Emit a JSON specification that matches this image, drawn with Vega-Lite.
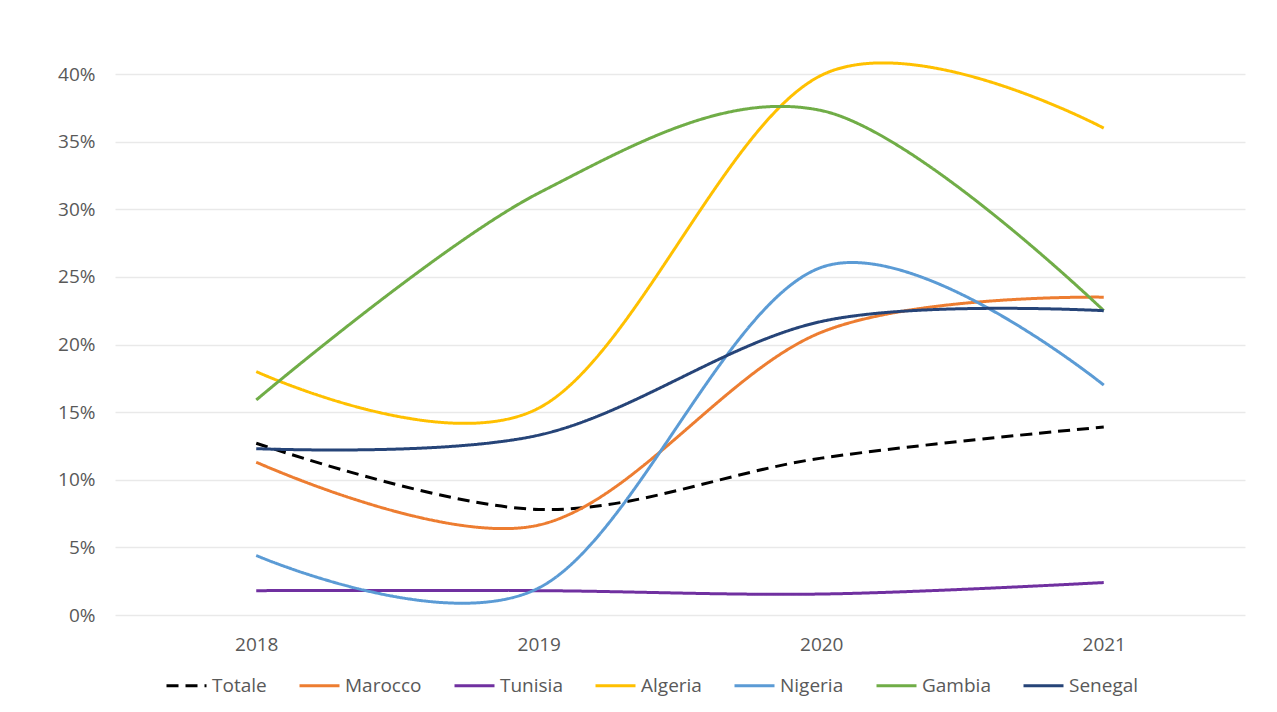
{
  "$schema": "https://vega.github.io/schema/vega-lite/v6.json",
  "width": 1130,
  "height": 541,
  "autosize": {"type": "none"},
  "padding": {"left": 115, "top": 74, "right": 32, "bottom": 97},
  "background": "white",
  "data": {
    "values": [
      {"Year": "2018", "Series": "Totale", "Value": 0.127},
      {"Year": "2019", "Series": "Totale", "Value": 0.078},
      {"Year": "2020", "Series": "Totale", "Value": 0.116},
      {"Year": "2021", "Series": "Totale", "Value": 0.139},
      {"Year": "2018", "Series": "Marocco", "Value": 0.113},
      {"Year": "2019", "Series": "Marocco", "Value": 0.0665},
      {"Year": "2020", "Series": "Marocco", "Value": 0.209},
      {"Year": "2021", "Series": "Marocco", "Value": 0.235},
      {"Year": "2018", "Series": "Tunisia", "Value": 0.018},
      {"Year": "2019", "Series": "Tunisia", "Value": 0.018},
      {"Year": "2020", "Series": "Tunisia", "Value": 0.0155},
      {"Year": "2021", "Series": "Tunisia", "Value": 0.024},
      {"Year": "2018", "Series": "Algeria", "Value": 0.18},
      {"Year": "2019", "Series": "Algeria", "Value": 0.153},
      {"Year": "2020", "Series": "Algeria", "Value": 0.399},
      {"Year": "2021", "Series": "Algeria", "Value": 0.36},
      {"Year": "2018", "Series": "Nigeria", "Value": 0.044},
      {"Year": "2019", "Series": "Nigeria", "Value": 0.02},
      {"Year": "2020", "Series": "Nigeria", "Value": 0.257},
      {"Year": "2021", "Series": "Nigeria", "Value": 0.17},
      {"Year": "2018", "Series": "Gambia", "Value": 0.159},
      {"Year": "2019", "Series": "Gambia", "Value": 0.312},
      {"Year": "2020", "Series": "Gambia", "Value": 0.373},
      {"Year": "2021", "Series": "Gambia", "Value": 0.225},
      {"Year": "2018", "Series": "Senegal", "Value": 0.123},
      {"Year": "2019", "Series": "Senegal", "Value": 0.133},
      {"Year": "2020", "Series": "Senegal", "Value": 0.217},
      {"Year": "2021", "Series": "Senegal", "Value": 0.225}
    ]
  },
  "mark": {"type": "line", "interpolate": "cardinal", "tension": 0, "strokeWidth": 3},
  "encoding": {
    "x": {
      "field": "Year",
      "type": "ordinal",
      "scale": {"type": "point", "padding": 0.5},
      "axis": {
        "title": null,
        "labelAngle": 0,
        "domain": false,
        "ticks": false,
        "labelPadding": 20,
        "labelFontSize": 19,
        "labelFont": "Open Sans",
        "labelColor": "#595959"
      }
    },
    "y": {
      "field": "Value",
      "type": "quantitative",
      "scale": {"domain": [0, 0.4], "nice": false},
      "axis": {
        "title": null,
        "values": [0, 0.05, 0.1, 0.15, 0.2, 0.25, 0.3, 0.35, 0.4],
        "format": ".0%",
        "domain": false,
        "ticks": false,
        "labelPadding": 20,
        "labelFontSize": 19,
        "labelFont": "Open Sans",
        "labelColor": "#595959",
        "gridColor": "#e9e9e9",
        "gridWidth": 1.5
      }
    },
    "color": {
      "field": "Series",
      "type": "nominal",
      "sort": ["Totale", "Marocco", "Tunisia", "Algeria", "Nigeria", "Gambia", "Senegal"],
      "scale": {
        "domain": ["Totale", "Marocco", "Tunisia", "Algeria", "Nigeria", "Gambia", "Senegal"],
        "range": ["#000000", "#ED7D31", "#7030A0", "#FFC000", "#5B9BD5", "#70AD47", "#264478"]
      },
      "legend": {
        "title": null,
        "orient": "none",
        "direction": "horizontal",
        "legendX": 50,
        "legendY": 590,
        "symbolType": "stroke",
        "symbolSize": 1600,
        "symbolStrokeWidth": 3,
        "labelFontSize": 19,
        "labelFont": "Open Sans",
        "labelColor": "#595959",
        "labelOffset": 4,
        "columnPadding": 26
      }
    },
    "strokeDash": {
      "field": "Series",
      "type": "nominal",
      "sort": ["Totale", "Marocco", "Tunisia", "Algeria", "Nigeria", "Gambia", "Senegal"],
      "scale": {
        "domain": ["Totale", "Marocco", "Tunisia", "Algeria", "Nigeria", "Gambia", "Senegal"],
        "range": [[12, 7], [1, 0], [1, 0], [1, 0], [1, 0], [1, 0], [1, 0]]
      },
      "legend": {
        "title": null,
        "orient": "none",
        "direction": "horizontal",
        "legendX": 50,
        "legendY": 590,
        "symbolType": "stroke",
        "symbolSize": 1600,
        "symbolStrokeWidth": 3,
        "labelFontSize": 19,
        "labelFont": "Open Sans",
        "labelColor": "#595959",
        "labelOffset": 4,
        "columnPadding": 26
      }
    }
  },
  "config": {
    "view": {"stroke": null}
  }
}
